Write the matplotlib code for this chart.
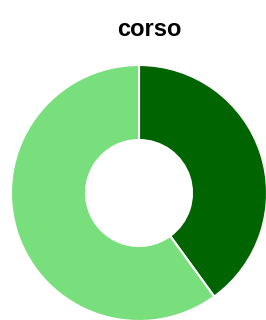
import matplotlib.pyplot as plt

# data
labels = ['A', 'B']
values = [40, 60]
colors = ['#006400', '#79de7c']

W, H = 266, 320
fig = plt.figure(figsize=(W / 100, H / 100), dpi=100)
ax = fig.add_axes([0, 0, 1, 1])

# donut, clockwise from 12 o'clock
ax.pie(values, colors=colors, startangle=90, counterclock=False,
       center=(139, H - 193), radius=128,
       wedgeprops=dict(width=128 - 53, edgecolor='white', linewidth=1.5))
ax.set_xlim(0, W)
ax.set_ylim(0, H)
ax.set_aspect('equal')
ax.axis('off')

fig.text(149 / W, 1 - 30 / H, 'corso', ha='center', va='center',
         fontsize=17, fontweight='bold', family='Liberation Sans')

plt.savefig('out.png', dpi=100)
